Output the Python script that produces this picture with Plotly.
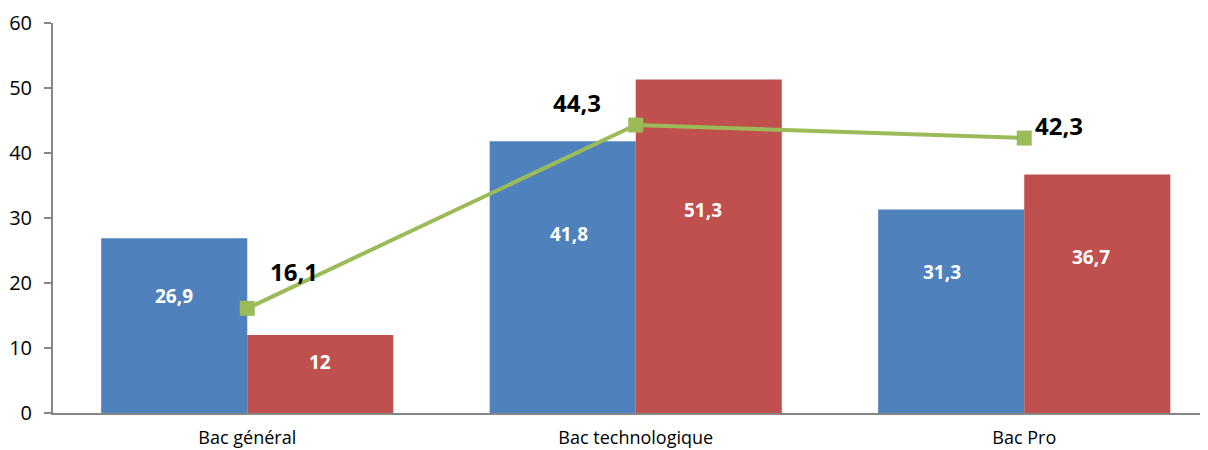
import plotly.graph_objects as go

categories = ["Bac général", "Bac technologique", "Bac Pro"]
series_blue = [26.9, 41.8, 31.3]
series_red = [12, 51.3, 36.7]
series_line = [16.1, 44.3, 42.3]
y_ticks = [0, 10, 20, 30, 40, 50, 60]

def fr(v):
    s = ("%g" % v).replace(".", ",")
    return s

BLUE = "#4F81BD"
RED = "#C0504D"
GREEN = "#9BBB59"
AXIS = "#868686"
FONT = "Open Sans"

fig = go.Figure()
fig.add_trace(go.Bar(x=categories, y=series_blue, marker=dict(color=BLUE, line=dict(width=0)),
                     hoverinfo="skip", showlegend=False, offsetgroup="a"))
fig.add_trace(go.Bar(x=categories, y=series_red, marker=dict(color=RED, line=dict(width=0)),
                     hoverinfo="skip", showlegend=False, offsetgroup="b"))
fig.add_trace(go.Scatter(x=categories, y=series_line, mode="lines+markers",
                         line=dict(color=GREEN, width=4),
                         marker=dict(symbol="square", size=15, color=GREEN),
                         hoverinfo="skip", showlegend=False))

# label style offsets (pixels) relative to bar centres
bar_half = 73
blue_off = [(0, 30), (6, 43), (-9, 39)]
red_off = [(0, 12), (-6, 36), (-6, 37)]
line_off = [(47, 37), (-59, 23), (35, 13)]

ann = []
for i, c in enumerate(categories):
    dx, dy = blue_off[i]
    ann.append(dict(x=c, y=series_blue[i] / 2, xref="x", yref="y", text="<b>%s</b>" % fr(series_blue[i]),
                    showarrow=False, xshift=-bar_half + dx, yshift=dy,
                    font=dict(family=FONT, size=19, color="white")))
    dx, dy = red_off[i]
    ann.append(dict(x=c, y=series_red[i] / 2, xref="x", yref="y", text="<b>%s</b>" % fr(series_red[i]),
                    showarrow=False, xshift=bar_half + dx, yshift=dy,
                    font=dict(family=FONT, size=19, color="white")))
    dx, dy = line_off[i]
    ann.append(dict(x=c, y=series_line[i], xref="x", yref="y", text="<b>%s</b>" % fr(series_line[i]),
                    showarrow=False, xshift=dx, yshift=dy,
                    font=dict(family=FONT, size=24, color="black")))

fig.update_layout(
    width=1208, height=450,
    margin=dict(l=45, r=0, t=15, b=45),
    paper_bgcolor="white", plot_bgcolor="white",
    barmode="group", bargap=0.248, bargroupgap=0,
    font=dict(family=FONT, size=18, color="black"),
    annotations=ann,
    xaxis=dict(range=[-0.5, 2.4936], showline=True, linecolor=AXIS, linewidth=2,
               ticks="", showgrid=False, zeroline=False, ticklabelstandoff=7,
               tickfont=dict(family=FONT, size=18, color="black")),
    yaxis=dict(range=[0, 60], tickvals=y_ticks, showline=True, linecolor=AXIS, linewidth=2,
               ticks="outside", ticklen=7, tickwidth=2, tickcolor=AXIS,
               ticklabelstandoff=8,
               showgrid=False, zeroline=False,
               tickfont=dict(family=FONT, size=20, color="black")),
)

fig.write_html("out.html")
